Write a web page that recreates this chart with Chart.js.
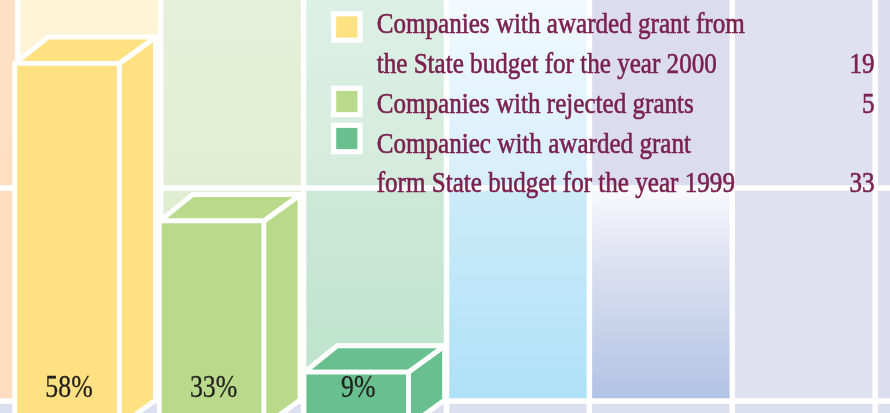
<!DOCTYPE html>
<html><head><meta charset="utf-8">
<script src="https://cdn.jsdelivr.net/npm/chart.js@4.4.1/dist/chart.umd.min.js"></script>
<style>html,body{margin:0;padding:0;overflow:hidden;background:#dcdff0}#wrap{width:890px;height:413px;position:relative}canvas{display:block}</style>
</head><body><div id="wrap"><canvas id="c" width="890" height="413"></canvas></div>
<script>
// ---- data ----
const barLabels = ['58%', '33%', '9%'];
const barValues = [58, 33, 9];
const legendLines = [
  ['Companies with awarded grant from', 'the State budget for the year 2000'],
  ['Companies with rejected grants'],
  ['Companiec with awarded grant', 'form State budget for the year 1999']
];
const legendCounts = [19, 5, 33];

// ---- styles ----
const barColors = ['#fee181', '#b9da8b', '#67c08d'];
const TEXT_MAROON = '#7b2150';
const SERIF = '"Liberation Serif", "Times New Roman", serif';

const bgPlugin = {
  id: 'bg',
  beforeDraw(chart) {
    const ctx = chart.ctx, W = chart.width, H = chart.height;
    ctx.save();
    ctx.fillStyle = '#dcdff0';
    ctx.fillRect(0, 0, W, H);
    const pitch = 142.9, first = 17.8, lw = 5.5;
    const lines = [];
    for (let i = 0; i < 7; i++) lines.push(first + pitch * i);
    const cols = [
      {top: ['#fde0c4', '#fddec1'], bot: ['#fddec1', '#fddcbf']},
      {top: ['#fef4d8', '#fdf0d0'], bot: ['#fdedc8', '#fde9c0']},
      {top: ['#e6f0d8', '#e1edd2'], bot: ['#dfedd0', '#d9eacb']},
      {top: ['#ddf0e6', '#d3ebdc'], bot: ['#cce9d8', '#bde2cb']},
      {top: ['#f2faff', '#d6eefb'], bot: ['#cdebf9', '#aee1f7']},
      {top: ['#dbdcef', '#dbdcef'], bot: ['#fafafd', '#e0e3f2', '#b0c2e3']},
      {top: ['#dfe0f0', '#dfe0f0'], bot: ['#dfe0f0', '#dfe0f0']},
      {top: ['#dcddef', '#dcddef'], bot: ['#dcddef', '#dcddef']}
    ];
    const hTop = 188, hBot = 401, hw = 5.5;
    const grad = (stops, y0, y1) => {
      const g = ctx.createLinearGradient(0, y0, 0, y1);
      if (stops.length === 3) { g.addColorStop(0, stops[0]); g.addColorStop(0.3, stops[1]); g.addColorStop(1, stops[2]); }
      else { g.addColorStop(0, stops[0]); g.addColorStop(1, stops[1]); }
      return g;
    };
    for (let i = 0; i < cols.length; i++) {
      const x0 = i === 0 ? 0 : lines[i - 1];
      const x1 = i < lines.length ? lines[i] : W;
      ctx.fillStyle = grad(cols[i].top, 0, hTop);
      ctx.fillRect(x0, 0, x1 - x0, hTop);
      ctx.fillStyle = grad(cols[i].bot, hTop, hBot);
      ctx.fillRect(x0, hTop, x1 - x0, hBot - hTop);
    }
    ctx.fillStyle = '#ffffff';
    lines.forEach(x => ctx.fillRect(x - lw / 2, 0, lw, H));
    ctx.fillRect(0, hTop - hw / 2, W, hw);
    ctx.fillRect(0, hBot - hw / 2, W, hw);
    ctx.restore();
  }
};

const depthPlugin = {
  id: 'depth',
  beforeDatasetsDraw(chart) {
    const ctx = chart.ctx;
    const meta = chart.getDatasetMeta(0);
    const bw = 5, dxL = 33, dxR = 36.5, dy = -26.5;
    meta.data.forEach((bar, i) => {
      const p = bar.getProps(['x', 'y', 'base', 'width'], true);
      const L = p.x - p.width / 2 + bw / 2, R = p.x + p.width / 2 - bw / 2;
      const T = p.y + bw / 2, B = p.base;
      ctx.save();
      ctx.fillStyle = barColors[i];
      ctx.strokeStyle = '#ffffff';
      ctx.lineWidth = bw;
      ctx.lineJoin = 'round';
      ctx.beginPath();
      ctx.moveTo(R, T); ctx.lineTo(R + dxR, T + dy); ctx.lineTo(R + dxR, B + dy); ctx.lineTo(R, B);
      ctx.closePath(); ctx.fill(); ctx.stroke();
      ctx.beginPath();
      ctx.moveTo(L, T); ctx.lineTo(L + dxL, T + dy); ctx.lineTo(R + dxR, T + dy); ctx.lineTo(R, T);
      ctx.closePath(); ctx.fill(); ctx.stroke();
      ctx.restore();
    });
  }
};

function scaledText(ctx, text, x, y, sx, align, sw) {
  ctx.save();
  ctx.translate(x, y);
  ctx.scale(sx, 1);
  ctx.textAlign = align;
  ctx.fillText(text, 0, 0);
  if (sw) { ctx.lineWidth = sw; ctx.strokeStyle = ctx.fillStyle; ctx.strokeText(text, 0, 0); }
  ctx.restore();
}

const labelPlugin = {
  id: 'labels',
  afterDatasetsDraw(chart) {
    const ctx = chart.ctx;
    const meta = chart.getDatasetMeta(0);
    ctx.save();
    ctx.textBaseline = 'alphabetic';
    // percentage labels
    ctx.font = '32px ' + SERIF;
    ctx.fillStyle = '#231f20';
    const psx = 47.4 / ctx.measureText('58%').width;
    meta.data.forEach((bar, i) => {
      scaledText(ctx, barLabels[i], bar.x + 2, 397, psx, 'center', 0.3);
    });
    // legend
    ctx.font = '29px ' + SERIF;
    const lsx = 368 / ctx.measureText(legendLines[0][0]).width;
    const boxY = [27, 101.5, 138.5];
    const textX = 376.7, numX = 874.5, base0 = 33.2, pitch = 39.8;
    let line = 0;
    legendLines.forEach((lines, i) => {
      ctx.fillStyle = '#ffffff';
      ctx.fillRect(331, boxY[i] - 15.8, 31.6, 31.6);
      ctx.fillStyle = barColors[i];
      ctx.fillRect(336.2, boxY[i] - 10.6, 21.2, 21.2);
      ctx.fillStyle = TEXT_MAROON;
      lines.forEach((t, j) => {
        const y = base0 + pitch * line;
        scaledText(ctx, t, textX, y, lsx, 'left', 0.6);
        if (j === lines.length - 1) scaledText(ctx, String(legendCounts[i]), numX, y, lsx, 'right', 0.6);
        line++;
      });
    });
    ctx.restore();
  }
};

new Chart(document.getElementById('c'), {
  type: 'bar',
  data: {
    datasets: [{
      data: barValues.map((v, i) => ({x: i, y: v})),
      backgroundColor: barColors,
      borderColor: '#ffffff',
      borderWidth: 5,
      borderSkipped: false,
      base: 0,
      barThickness: 109
    }]
  },
  options: {
    responsive: false,
    animation: false,
    layout: {padding: 0},
    plugins: {legend: {display: false}, tooltip: {enabled: false}},
    scales: {
      x: {type: 'linear', min: -0.4633, max: 5.6916, offset: false, display: false, grid: {offset: false}},
      y: {type: 'linear', min: 2.143, max: 67.70, display: false}
    }
  },
  plugins: [bgPlugin, depthPlugin, labelPlugin]
});
</script>
</body></html>
